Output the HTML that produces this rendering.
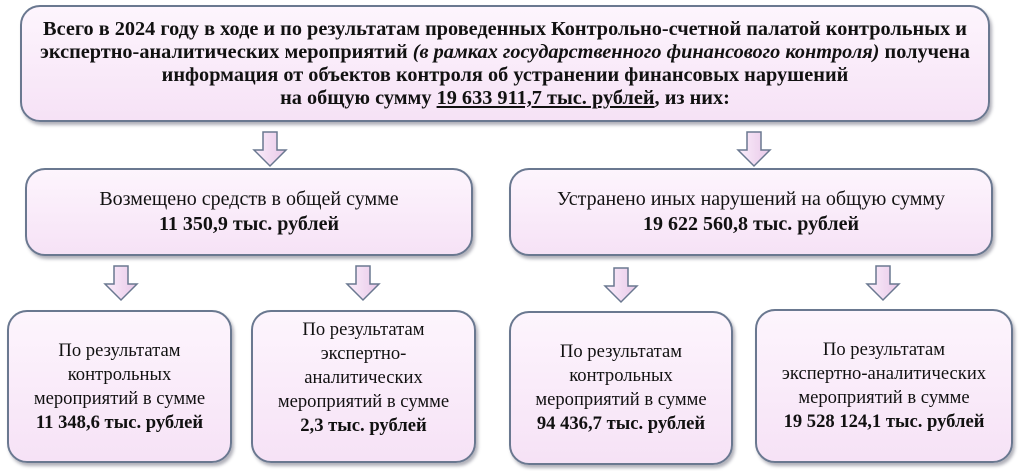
<!DOCTYPE html>
<html><head><meta charset="utf-8"><style>
body{margin:0;width:1024px;height:471px;background:#fff;position:relative;overflow:hidden;font-family:"Liberation Serif",serif;color:#111}
.b{position:absolute;box-sizing:border-box;border:2px solid #6a7890;border-radius:20px;background:linear-gradient(#fdf5fd,#f6e2f6);box-shadow:2px 3px 3px rgba(80,80,100,.45);display:flex;flex-direction:column;justify-content:center;align-items:center;text-align:center}
.t{font-weight:bold;font-size:20.3px;line-height:23px;white-space:nowrap}
.m{font-size:20px;line-height:25px}
.s{font-size:18.6px;line-height:24px}
svg{position:absolute}
</style></head><body>
<div class="b t" style="left:20px;top:5px;width:970px;height:117px;padding:0 4px">
<div>Всего в 2024 году в ходе и по результатам проведенных Контрольно-счетной палатой контрольных и<br>экспертно-аналитических мероприятий <i>(в рамках государственного финансового контроля)</i> получена<br>информация от объектов контроля об устранении финансовых нарушений<br>на общую сумму <u>19 633 911,7 тыс. рублей</u>, из них:</div></div>

<div class="b m" style="left:25px;top:168px;width:448px;height:88px"><div>Возмещено средств в общей сумме<br><b>11 350,9 тыс. рублей</b></div></div>
<div class="b m" style="left:509px;top:168px;width:484px;height:88px"><div>Устранено иных нарушений на общую сумму<br><b>19 622 560,8 тыс. рублей</b></div></div>

<div class="b s" style="left:7px;top:310px;width:225px;height:153px"><div>По результатам<br>контрольных<br>мероприятий в сумме<br><b>11 348,6 тыс. рублей</b></div></div>
<div class="b s" style="left:251px;top:310px;width:225px;height:153px;justify-content:flex-start;padding-top:6px"><div>По результатам<br>экспертно-<br>аналитических<br>мероприятий в сумме<br><b>2,3 тыс. рублей</b></div></div>
<div class="b s" style="left:509px;top:311px;width:224px;height:154px"><div>По результатам<br>контрольных<br>мероприятий в сумме<br><b>94 436,7 тыс. рублей</b></div></div>
<div class="b s" style="left:755px;top:309px;width:258px;height:154px"><div>По результатам<br>экспертно-аналитических<br>мероприятий в сумме<br><b>19 528 124,1 тыс. рублей</b></div></div>

<svg width="1024" height="471" style="left:0;top:0">
<defs><linearGradient id="g" x1="0" x2="1"><stop offset="0" stop-color="#fbeefb"/><stop offset="1" stop-color="#e8c8e8"/></linearGradient>
<g id="a"><path d="M-7,0 H7 V18 H16 L0,34 L-16,18 H-7 Z" fill="url(#g)" stroke="#6a7890" stroke-width="1.5"/></g></defs>
<use href="#a" x="270" y="132"/>
<use href="#a" x="754" y="132"/>
<use href="#a" x="121" y="266"/>
<use href="#a" x="363" y="266"/>
<use href="#a" x="621" y="268"/>
<use href="#a" x="883" y="266"/>
</svg>
</body></html>
